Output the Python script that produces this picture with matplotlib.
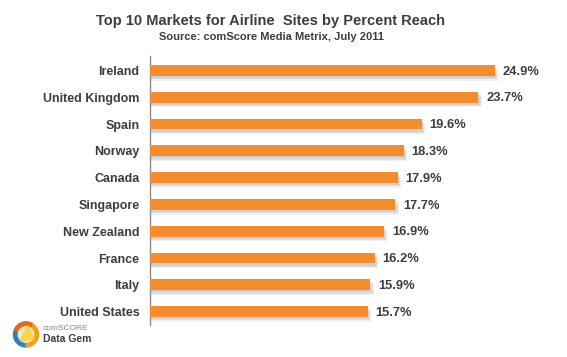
import matplotlib
matplotlib.use("Agg")
import matplotlib.pyplot as plt
from matplotlib.patches import Circle, Wedge, Polygon

plt.rcParams['font.family'] = ['Liberation Sans', 'DejaVu Sans']

countries = ["Ireland", "United Kingdom", "Spain", "Norway", "Canada",
             "Singapore", "New Zealand", "France", "Italy", "United States"]
reach = [24.9, 23.7, 19.6, 18.3, 17.9, 17.7, 16.9, 16.2, 15.9, 15.7]
title = "Top 10 Markets for Airline  Sites by Percent Reach"
subtitle = "Source: comScore Media Metrix, July 2011"

W, H = 567, 357
fig = plt.figure(figsize=(W/100, H/100), dpi=100)
fig.patch.set_facecolor("white")

left = 150 / W
axw = (26 * 13.86) / W
bottom = (H - 325) / H
top = (H - 56) / H
ax = fig.add_axes([left, bottom, axw, top - bottom])

orange = "#F28C2E"
text_col = "#3C3C46"
ypos = list(range(len(countries)))
bh = 0.40

# soft shadow under bars
for i, (dy, a) in enumerate([(0.08, 0.12), (0.13, 0.14), (0.18, 0.10)]):
    ax.barh([y + dy for y in ypos], [v + 0.08 * (i + 1) for v in reach],
            height=bh, color="#707070", alpha=a, left=0, zorder=1, linewidth=0)
ax.barh(ypos, reach, height=bh, color=orange, zorder=3, linewidth=0)

for y, v in zip(ypos, reach):
    ax.text(v + 0.55, y + 0.04, f"{v:.1f}%", va="center", ha="left",
            fontsize=9.3, fontweight="bold", color=text_col, zorder=4)

ax.set_xlim(0, 26)
ax.set_ylim(9.5, -0.54)
ax.set_yticks(ypos)
ax.set_yticklabels(countries, fontsize=9, fontweight="bold", color=text_col)
ax.tick_params(axis="y", length=0, pad=7.5)
ax.set_xticks([])
for s in ["top", "right", "bottom"]:
    ax.spines[s].set_visible(False)
ax.spines["left"].set_color("#8C8C8C")
ax.spines["left"].set_linewidth(1.0)
ax.set_facecolor("none")

fig.text(271 / W, 1 - 21 / H, title, ha="center", va="center",
         fontsize=10.5, fontweight="bold", color=text_col)
fig.text(271 / W, 1 - 37 / H, subtitle, ha="center", va="center",
         fontsize=8, fontweight="bold", color=text_col)

# logo
lax = fig.add_axes([0, 0, 1, 1], facecolor="none")
lax.set_xlim(0, W)
lax.set_ylim(H, 0)
lax.axis("off")
cx, cy, r = 26, 334.5, 12.5
lax.add_patch(Wedge((cx, cy), r, 90, 270, color="#2E7FC1"))
lax.add_patch(Wedge((cx, cy), r, -90, 90, color="#F0A020"))
lax.add_patch(Wedge((cx, cy), r, 200, 300, color="#E06A20"))
lax.add_patch(Circle((cx, cy), r * 0.62, color="#F6E7B8"))
lax.add_patch(Polygon([[cx - 6, cy + 6], [cx + 2, cy - 9], [cx + 8, cy + 5]],
                      closed=True, color="#FBD23A", alpha=0.8))
fig.text(43 / W, 1 - 329 / H, "comSCORE",
         fontsize=6, color="#8A8A8A", va="center", ha="left")
fig.text(43 / W, 1 - 339.5 / H, "Data Gem", fontsize=7.5, fontweight="bold",
         color="#3C3C46", va="center", ha="left")

fig.savefig("out.png", dpi=100, facecolor="white")
